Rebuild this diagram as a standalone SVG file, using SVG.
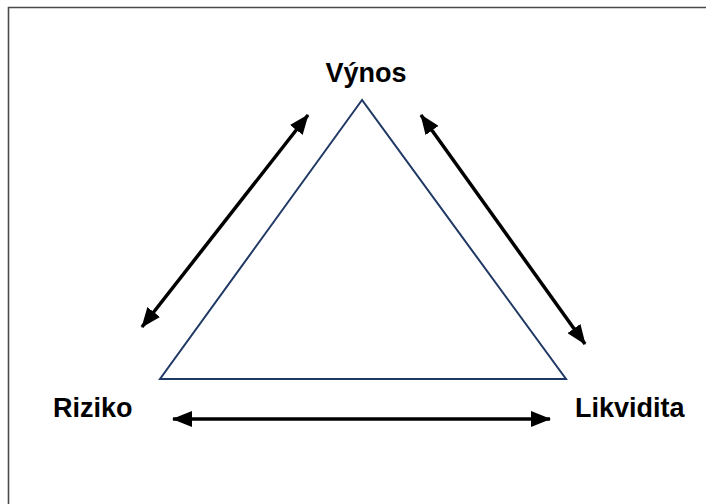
<svg xmlns="http://www.w3.org/2000/svg" width="706" height="504" viewBox="0 0 706 504">
<style>
.lbl{font-family:"Liberation Sans",Arial,sans-serif;font-weight:bold;font-size:27px;fill:#000}
.conn{stroke:#000;stroke-width:3.5;fill:none;marker-start:url(#ah);marker-end:url(#ah)}
</style>
<defs>
<marker id="ah" markerUnits="userSpaceOnUse" markerWidth="20" markerHeight="16" refX="19" refY="8" orient="auto-start-reverse" viewBox="0 0 20 16">
<path d="M0,0 L20,8 L0,16 z" fill="#000"/>
</marker>
</defs>
<rect width="706" height="504" fill="#fff"/>
<path d="M8.5,504 V7.5 H706" fill="none" stroke="#4a4a4a" stroke-width="1.6"/>
<g id="triangle">
<polygon points="362,100 160,379 566,379" fill="#fff" stroke="#1f3864" stroke-width="2"/>
</g>
<g id="vynos"><text class="lbl" x="366" y="82" text-anchor="middle">Výnos</text></g>
<g id="riziko"><text class="lbl" x="53" y="417">Riziko</text></g>
<g id="likvidita"><text class="lbl" x="575" y="417">Likvidita</text></g>
<g id="connectors">
<line class="conn" x1="142" y1="327" x2="308" y2="115"/>
<line class="conn" x1="421" y1="115" x2="585" y2="344"/>
<line class="conn" x1="173" y1="419" x2="550" y2="419"/>
</g>
</svg>
